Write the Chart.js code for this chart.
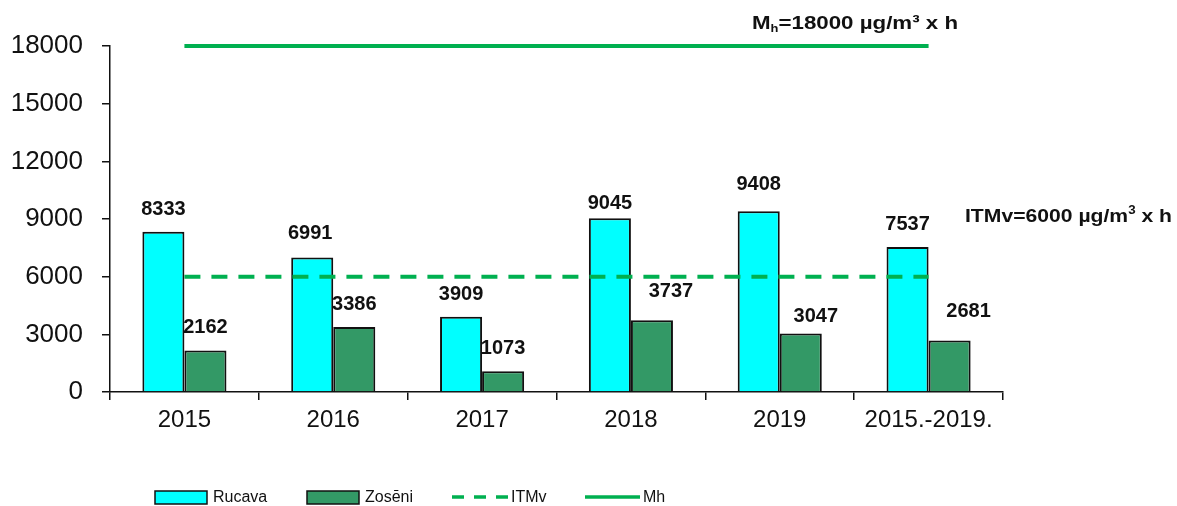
<!DOCTYPE html>
<html>
<head>
<meta charset="utf-8">
<script src="https://cdn.jsdelivr.net/npm/chart.js@4"></script>
<style>
  html, body { margin: 0; padding: 0; background: #fff; }
  #chart { display: block; }
</style>
</head>
<body>
<canvas id="chart" width="1177" height="506"></canvas>
<script>
const categories = ["2015", "2016", "2017", "2018", "2019", "2015.-2019."];
const rucava = [8333, 6991, 3909, 9045, 9408, 7537];
const zoseni = [2162, 3386, 1073, 3737, 3047, 2681];
const itmv = [6000, 6000, 6000, 6000, 6000, 6000];
const mh = [18000, 18000, 18000, 18000, 18000, 18000];
const yTicks = [0, 3000, 6000, 9000, 12000, 15000, 18000];

// label nudges (px) - a few labels were moved by hand in the original
const rucavaNudge = [[0, 0], [-2, -2], [0, 0], [0, 8], [0, -4], [0, 0]];
const zoseniNudge = [[0, 0], [0, 0], [0, 0], [19, -6], [15, 6], [19, -6]];

const FONT = "Arial, 'Liberation Sans', sans-serif";
const GREEN = "#00b050";

const barLabels = {
    id: "barLabels",
    afterDatasetsDraw(chart) {
        const ctx = chart.ctx;
        ctx.save();
        ctx.font = "bold 20px " + FONT;
        ctx.fillStyle = "#111";
        ctx.textAlign = "center";
        ctx.textBaseline = "alphabetic";
        [[0, rucava, rucavaNudge], [1, zoseni, zoseniNudge]].forEach(([idx, vals, nudge]) => {
            chart.getDatasetMeta(idx).data.forEach((el, i) => {
                ctx.fillText(String(vals[i]), el.x + nudge[i][0], el.y - 17 + nudge[i][1]);
            });
        });
        ctx.restore();
    }
};

// draws a run of [text, font, dy] parts, stretched to fill the given width
function drawParts(ctx, parts, x0, base, width) {
    let total = 0;
    parts.forEach(p => { ctx.font = p[1]; total += ctx.measureText(p[0]).width; });
    ctx.save();
    ctx.translate(x0, base);
    ctx.scale(width / total, 1);
    let x = 0;
    parts.forEach(p => {
        ctx.font = p[1];
        ctx.fillText(p[0], x, p[2]);
        x += ctx.measureText(p[0]).width;
    });
    ctx.restore();
}

const limitTexts = {
    id: "limitTexts",
    afterDraw(chart) {
        const ctx = chart.ctx;
        const y = chart.scales.y;
        const right = chart.chartArea.right;
        const big = "bold 19px " + FONT;
        const small = "bold 11px " + FONT;
        ctx.save();
        ctx.fillStyle = "#111";
        ctx.textBaseline = "alphabetic";
        ctx.textAlign = "left";

        drawParts(ctx, [
            ["M", big, 0], ["h", small, 3], ["=18000 µg/m³ x h", big, 0]
        ], 752, y.getPixelForValue(18000) - 17, 206);

        drawParts(ctx, [
            ["ITMv=6000 µg/m", big, 0], ["3", "bold 12px " + FONT, -8], [" x h", big, 0]
        ], right - 38, y.getPixelForValue(6000) - 55, 207);
        ctx.restore();
    }
};

const bottomLegend = {
    id: "bottomLegend",
    afterDraw(chart) {
        const ctx = chart.ctx;
        const cy = 497;
        ctx.save();
        ctx.font = "16px " + FONT;
        ctx.textBaseline = "middle";
        ctx.textAlign = "left";

        const boxes = [
            { x: 155, color: "#00ffff", text: "Rucava" },
            { x: 307, color: "#339966", text: "Zosēni" }
        ];
        boxes.forEach(b => {
            ctx.fillStyle = b.color;
            ctx.strokeStyle = "#111";
            ctx.lineWidth = 1.5;
            ctx.fillRect(b.x, cy - 6, 52, 13);
            ctx.strokeRect(b.x, cy - 6, 52, 13);
            ctx.fillStyle = "#111";
            ctx.fillText(b.text, b.x + 58, cy + 1);
        });

        ctx.strokeStyle = GREEN;
        ctx.lineWidth = 3.5;
        ctx.setLineDash([12, 10]);
        ctx.beginPath();
        ctx.moveTo(452, cy);
        ctx.lineTo(508, cy);
        ctx.stroke();
        ctx.setLineDash([]);
        ctx.beginPath();
        ctx.moveTo(585, cy);
        ctx.lineTo(640, cy);
        ctx.stroke();

        ctx.fillStyle = "#111";
        ctx.fillText("ITMv", 511, cy + 1);
        ctx.fillText("Mh", 643, cy + 1);
        ctx.restore();
    }
};

new Chart(document.getElementById("chart"), {
    data: {
        labels: categories,
        datasets: [
            {
                type: "bar",
                label: "Rucava",
                data: rucava,
                backgroundColor: "#00ffff",
                borderColor: "#111",
                borderWidth: 2,
                barPercentage: 1,
                categoryPercentage: 0.565,
                order: 2
            },
            {
                type: "bar",
                label: "Zosēni",
                data: zoseni,
                backgroundColor: "#339966",
                borderColor: "#111",
                borderWidth: 2,
                barPercentage: 1,
                categoryPercentage: 0.565,
                order: 2
            },
            {
                type: "line",
                label: "ITMv",
                data: itmv,
                borderColor: GREEN,
                borderWidth: 4,
                borderDash: [16, 11],
                pointRadius: 0,
                fill: false,
                clip: false,
                order: 1
            },
            {
                type: "line",
                label: "Mh",
                data: mh,
                borderColor: GREEN,
                borderWidth: 4,
                pointRadius: 0,
                fill: false,
                clip: false,
                order: 1
            }
        ]
    },
    options: {
        responsive: false,
        animation: false,
        layout: {
            padding: { left: 0, right: 174, top: 46, bottom: 54 }
        },
        plugins: {
            legend: { display: false },
            tooltip: { enabled: false }
        },
        scales: {
            x: {
                offset: true,
                grid: {
                    offset: true,
                    drawOnChartArea: false,
                    tickLength: 8,
                    color: "#111",
                    lineWidth: 1.5
                },
                border: { color: "#111", width: 1.5 },
                ticks: {
                    color: "#111",
                    font: { family: FONT, size: 24 },
                    padding: 6,
                    maxRotation: 0,
                    autoSkip: false
                },
                afterFit(scale) { scale.height = 60; }
            },
            y: {
                min: 0,
                max: 18000,
                afterBuildTicks(scale) {
                    scale.ticks = yTicks.map(v => ({ value: v }));
                },
                grid: {
                    drawOnChartArea: false,
                    tickLength: 8,
                    color: "#111",
                    lineWidth: 1.5
                },
                border: { color: "#111", width: 1.5 },
                ticks: {
                    color: "#111",
                    font: { family: FONT, size: 26 },
                    padding: 19,
                    callback: (v) => String(v)
                },
                afterFit(scale) { scale.width = 110; }
            }
        }
    },
    plugins: [barLabels, limitTexts, bottomLegend]
});
</script>
</body>
</html>
